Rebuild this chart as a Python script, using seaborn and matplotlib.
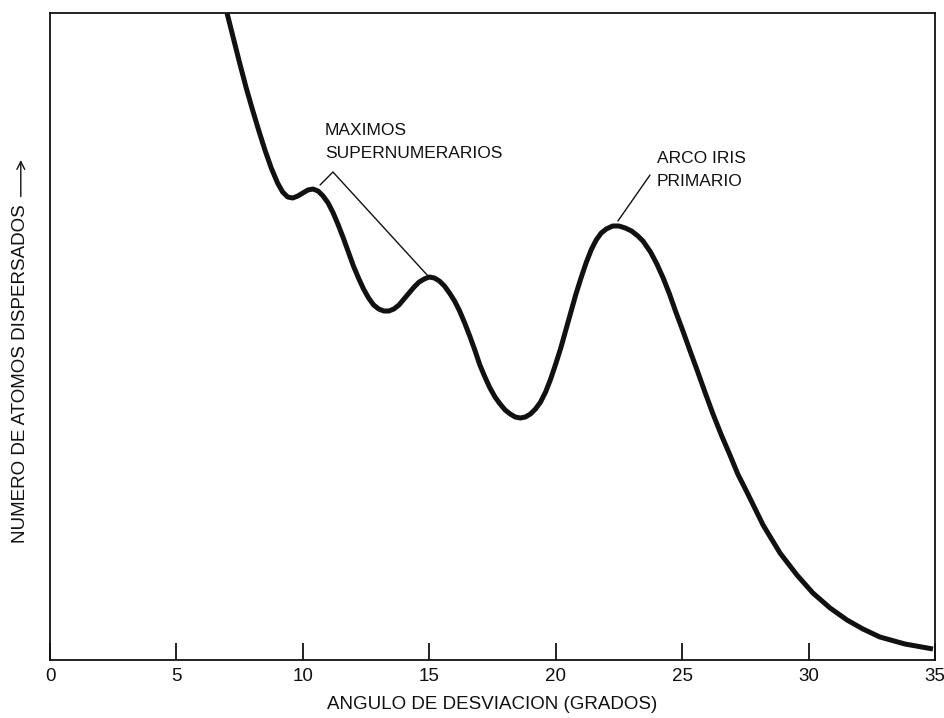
import matplotlib
matplotlib.use("Agg")
import matplotlib.pyplot as plt
import seaborn as sns
import pandas as pd

# Scattered-atom intensity versus deflection angle (arbitrary units)
angle_deg = [7.00, 7.25, 7.50, 7.75, 8.00, 8.25, 8.50, 8.75, 9.00, 9.20,
             9.40, 9.60, 9.80, 10.00, 10.20, 10.40, 10.60, 10.80, 11.00, 11.20,
             11.40, 11.60, 11.80, 12.00, 12.20, 12.40, 12.60, 12.80, 13.00, 13.20,
             13.40, 13.60, 13.80, 14.00, 14.20, 14.40, 14.60, 14.80, 15.00, 15.20,
             15.40, 15.60, 15.80, 16.00, 16.20, 16.40, 16.60, 16.80, 17.00, 17.20,
             17.40, 17.60, 17.80, 18.00, 18.20, 18.40, 18.60, 18.80, 19.00, 19.20,
             19.40, 19.60, 19.80, 20.00, 20.20, 20.40, 20.60, 20.80, 21.00, 21.20,
             21.40, 21.60, 21.80, 22.00, 22.25, 22.50, 22.75, 23.00, 23.25, 23.45,
             23.75, 24.00, 24.25, 24.50, 24.75, 25.03, 25.30, 25.59, 25.90, 26.22,
             26.55, 26.89, 27.20, 27.56, 28.20, 28.87, 29.54, 30.17, 30.85, 31.52,
             32.15, 32.82, 33.81, 34.92]
scattered = [647, 622, 597, 573, 551, 530, 510, 492, 477, 468,
             463, 462, 464, 467, 470, 471, 469, 464, 457, 447,
             435, 422, 408, 394, 382, 371, 362, 355, 351, 349,
             349, 351, 355, 361, 367, 373, 378, 381, 383, 382,
             379, 374, 367, 359, 349, 337, 324, 310, 295, 283,
             272, 263, 256, 250, 246, 243, 242, 243, 246, 251,
             258, 268, 281, 296, 312, 330, 348, 366, 382, 397,
             410, 420, 427, 431, 434, 434, 432, 429, 424, 419,
             408, 396, 382, 366, 348, 329, 310, 290, 268, 246,
             225, 205, 186, 168, 135, 107, 85, 67, 52, 40,
             31, 23, 16, 11]

x_ticks = [0, 5, 10, 15, 20, 25, 30, 35]

x_label = "ANGULO DE DESVIACION (GRADOS)"
y_label = "NUMERO DE ATOMOS DISPERSADOS"
note_super = "MAXIMOS\nSUPERNUMERARIOS"
note_primary = "ARCO IRIS\nPRIMARIO"

sns.set_theme(style="white")
plt.rcParams["font.family"] = ["Liberation Sans", "DejaVu Sans"]

df = pd.DataFrame({"angle": angle_deg, "count": scattered})

fig = plt.figure(figsize=(9.44, 7.18), dpi=100)
ax = fig.add_axes([50 / 944, 58 / 718, 885 / 944, 647 / 718])

sns.lineplot(data=df, x="angle", y="count", ax=ax, color="#111111",
             linewidth=3.6, solid_capstyle="butt", solid_joinstyle="round")

ax.set_xlim(0, 35)
ax.set_ylim(0, 647)
ax.set_xticks(x_ticks)
ax.set_xticklabels([str(t) for t in x_ticks], fontsize=13.5, color="#111111")
ax.set_yticks([])
ax.tick_params(axis="x", direction="in", length=12, width=1.3,
               color="#111111", pad=6, bottom=True)
for side in ["left", "right", "top", "bottom"]:
    ax.spines[side].set_visible(True)
    ax.spines[side].set_color("#111111")
    ax.spines[side].set_linewidth(1.3)

ax.set_xlabel(x_label, fontsize=13.5, color="#111111", labelpad=8)
ax.set_ylabel("")

# vertical axis caption with arrow pointing up
ax.text(-0.033, 0.181, y_label, transform=ax.transAxes, rotation=90,
        rotation_mode="anchor", ha="left", va="center", fontsize=13.5,
        color="#111111")
ax.annotate("", xy=(-0.033, 0.777), xytext=(-0.033, 0.712),
            xycoords="axes fraction", textcoords="axes fraction",
            arrowprops=dict(arrowstyle="->", color="#111111", lw=1.0,
                            mutation_scale=14),
            annotation_clip=False)

# supernumerary maxima: bracket pointing at both secondary peaks
ax.text(10.88, 537, note_super, fontsize=12.5, color="#111111",
        ha="left", va="top", linespacing=1.7)
ax.plot([10.68, 11.19, 14.95], [475, 488, 384], color="#111111", lw=1.0)

# primary rainbow peak
ax.text(24.0, 509, note_primary, fontsize=12.5, color="#111111",
        ha="left", va="top", linespacing=1.7)
ax.plot([23.73, 22.46], [485, 439], color="#111111", lw=1.0)

fig.savefig("out.png", dpi=100, facecolor="white")
